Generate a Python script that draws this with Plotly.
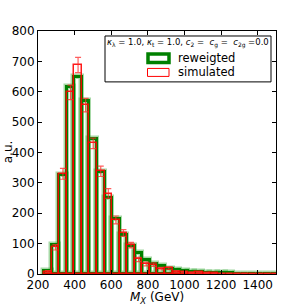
import plotly.graph_objects as go

# ---- data ----
bin_start = 233.0
bin_width = 41.3
reweighted = [11, 95, 325, 617, 648, 570, 443, 335, 250, 182, 127, 92, 68, 46, 34,
              25, 18, 12, 9, 6, 5, 4, 3, 2, 2, 1.5, 1.2, 1, 1, 0.8, 0.6]
simulated = [8, 88, 330, 598, 688, 556, 430, 338, 265, 178, 135, 95, 48, 33, 31,
             18, 19, 8, 6, 4, 5, 3, 2, 1.5, 1, 1, 0.8, 0.6, 0.5, 0.4, 0.3]
sim_err = [3, 9, 18, 24, 25, 22, 17, 17, 16, 13, 11, 9, 7, 6, 6,
           4, 4, 3, 2, 2, 2, 2, 1, 1, 1, 1, 1, 1, 1, 1, 1]
x_ticks = [200, 400, 600, 800, 1000, 1200, 1400]
y_ticks = [0, 100, 200, 300, 400, 500, 600, 700, 800]

centers = [bin_start + bin_width * (i + 0.5) for i in range(len(reweighted))]

fig = go.Figure()
# light green halo
fig.add_trace(go.Bar(x=centers, y=reweighted, width=bin_width,
                     marker=dict(color="rgba(0,0,0,0)",
                                 line=dict(color="rgba(60,170,60,0.45)", width=5.5)),
                     showlegend=False, hoverinfo="skip"))
fig.add_trace(go.Bar(x=centers, y=reweighted, width=bin_width,
                     marker=dict(color="rgba(0,0,0,0)",
                                 line=dict(color="#008000", width=3)),
                     showlegend=False))
fig.add_trace(go.Bar(x=centers, y=simulated, width=bin_width,
                     marker=dict(color="rgba(0,0,0,0)",
                                 line=dict(color="rgba(255,0,0,0.9)", width=1.5)),
                     error_y=dict(type="data", array=sim_err, color="rgba(255,40,40,0.75)",
                                  thickness=1.2, width=3),
                     showlegend=False))

fig.update_layout(barmode="overlay", bargap=0)

W, H = 307, 307
L, R, T, B = 38, 31, 31, 32.5
pw, ph = W - L - R, H - T - B

def px(x):
    return (x - L) / pw

def py(y):
    return (H - B - y) / ph

font = "DejaVu Sans, Liberation Sans, sans-serif"

shapes = [
    dict(type="rect", xref="paper", yref="paper", x0=px(105), x1=px(271), y0=py(82), y1=py(36),
         line=dict(color="black", width=1), fillcolor="white", layer="above"),
    dict(type="rect", xref="paper", yref="paper", x0=px(148), x1=px(169), y0=py(62.5), y1=py(54),
         line=dict(color="#008000", width=3.5), fillcolor="white", layer="above"),
    dict(type="rect", xref="paper", yref="paper", x0=px(147.5), x1=px(169), y0=py(76.5), y1=py(68.5),
         line=dict(color="red", width=1), fillcolor="white", layer="above"),
]
annotations = [
    dict(xref="paper", yref="paper", x=px(188), y=py(43.5), xanchor="center", yanchor="middle",
         showarrow=False,
         text="<i>κ</i><sub>λ</sub> = 1.0, <i>κ</i><sub>t</sub> = 1.0, <i>c</i><sub>2</sub> =  "
              "<i>c</i><sub>g</sub> =  <i>c</i><sub>2g</sub> =0.0",
         font=dict(family=font, size=8.5, color="black")),
    dict(xref="paper", yref="paper", x=px(176), y=py(58), xanchor="left", yanchor="middle",
         showarrow=False, text="reweigted", font=dict(family=font, size=11.5, color="black")),
    dict(xref="paper", yref="paper", x=px(176), y=py(72.5), xanchor="left", yanchor="middle",
         showarrow=False, text="simulated", font=dict(family=font, size=11.5, color="black")),
    dict(xref="paper", yref="paper", x=px(157), y=py(299), xanchor="center", yanchor="middle",
         showarrow=False, text="<i>M</i><sub><i>X</i></sub> (GeV)",
         font=dict(family=font, size=12, color="black")),
    dict(xref="paper", yref="paper", x=px(7.5), y=py(152), xanchor="center", yanchor="middle",
         showarrow=False, text="a.u.", textangle=-90,
         font=dict(family=font, size=12, color="black")),
]

fig.update_layout(
    width=W, height=H,
    margin=dict(l=L, r=R, t=T, b=B, pad=0),
    paper_bgcolor="white", plot_bgcolor="white",
    font=dict(family=font, size=12, color="black"),
    shapes=shapes, annotations=annotations,
    showlegend=False,
)
fig.update_xaxes(range=[200, 1500], tickvals=x_ticks, ticktext=[str(v) for v in x_ticks],
                 ticks="inside", ticklen=4, tickcolor="black", showline=True, linecolor="black",
                 linewidth=1, mirror="allticks", showgrid=False, zeroline=False,
                 automargin=False, tickfont=dict(family=font, size=12))
fig.update_yaxes(range=[0, 800], tickvals=y_ticks, ticktext=[str(v) for v in y_ticks],
                 ticks="inside", ticklen=4, tickcolor="black", showline=True, linecolor="black",
                 linewidth=1, mirror="allticks", showgrid=False, zeroline=False,
                 automargin=False, tickfont=dict(family=font, size=12))

fig.write_html("out.html", config={"displayModeBar": False},
               post_script="document.body.style.margin='0';document.body.style.padding='0';")
